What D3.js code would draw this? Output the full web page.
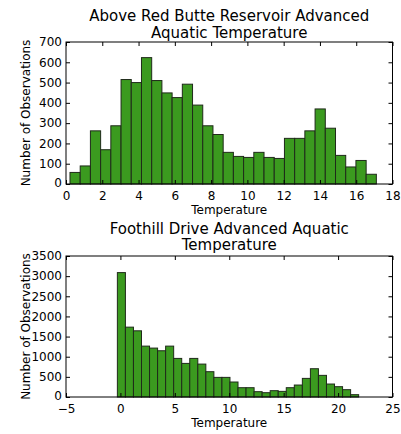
<!DOCTYPE html>
<html>
<head>
<meta charset="utf-8">
<script src="https://cdn.jsdelivr.net/npm/d3@7"></script>
<style>
  html, body { margin: 0; padding: 0; background: #fff; }
  svg { display: block; font-family: "DejaVu Sans", sans-serif; }
</style>
</head>
<body>
<svg id="chart" width="401" height="434"></svg>
<script>
// Above Red Butte Reservoir: 30 bins of observation counts
const redButteBinStart = 0.22;
const redButteBinWidth = 0.563;
const redButteCounts = [57, 89, 262, 169, 287, 515, 500, 623, 510, 449,
                        426, 492, 389, 287, 244, 156, 136, 131, 156, 131,
                        126, 225, 225, 262, 370, 275, 141, 84, 116, 48];
const redButteXTicks = [0, 2, 4, 6, 8, 10, 12, 14, 16, 18];
const redButteYTicks = [0, 100, 200, 300, 400, 500, 600, 700];

// Foothill Drive: 30 bins of observation counts
const foothillBinStart = -0.28;
const foothillBinWidth = 0.739;
const foothillCounts = [3088, 1734, 1643, 1263, 1214, 1148, 1263, 958, 834, 958,
                        817, 628, 487, 487, 372, 231, 231, 132, 107, 157,
                        140, 231, 297, 462, 702, 537, 322, 256, 182, 58];
const foothillXTicks = [-5, 0, 5, 10, 15, 20, 25];
const foothillYTicks = [0, 500, 1000, 1500, 2000, 2500, 3000, 3500];

const panels = [
  {
    title: ["Above Red Butte Reservoir Advanced", "Aquatic Temperature"],
    titleY: 21,
    top: 42, bottom: 184,
    xDomain: [0, 18], yDomain: [0, 700],
    binStart: redButteBinStart, binWidth: redButteBinWidth, counts: redButteCounts,
    xTicks: redButteXTicks, yTicks: redButteYTicks
  },
  {
    title: ["Foothill Drive Advanced Aquatic", "Temperature"],
    titleY: 233.5,
    top: 256, bottom: 397,
    xDomain: [-5, 25], yDomain: [0, 3500],
    binStart: foothillBinStart, binWidth: foothillBinWidth, counts: foothillCounts,
    xTicks: foothillXTicks, yTicks: foothillYTicks
  }
];

const left = 66, right = 392.5;
const svg = d3.select("#chart");
svg.append("rect").attr("width", 401).attr("height", 434).attr("fill", "#fff");

panels.forEach(p => {
  const x = d3.scaleLinear().domain(p.xDomain).range([left, right]);
  const y = d3.scaleLinear().domain(p.yDomain).range([p.bottom, p.top]);
  const g = svg.append("g");

  const bins = p.counts.map((c, i) => ({
    x0: p.binStart + i * p.binWidth,
    x1: p.binStart + (i + 1) * p.binWidth,
    count: c
  }));

  g.selectAll("rect.bar").data(bins).enter().append("rect")
    .attr("class", "bar")
    .attr("x", d => x(d.x0))
    .attr("width", d => x(d.x1) - x(d.x0))
    .attr("y", d => y(d.count))
    .attr("height", d => y(0) - y(d.count))
    .attr("fill", "#3b9a1f")
    .attr("stroke", "#1f2a1a")
    .attr("stroke-width", 1);

  // inward ticks on all four sides
  const tickLen = 4;
  const xb = g.append("g").attr("transform", `translate(0,${p.bottom})`)
    .call(d3.axisBottom(x).tickValues(p.xTicks).tickSize(-tickLen).tickPadding(7).tickFormat(d3.format("d")));
  const xt = g.append("g").attr("transform", `translate(0,${p.top})`)
    .call(d3.axisTop(x).tickValues(p.xTicks).tickSize(-tickLen).tickFormat(""));
  const yl = g.append("g").attr("transform", `translate(${left},0)`)
    .call(d3.axisLeft(y).tickValues(p.yTicks).tickSize(-tickLen).tickPadding(4).tickFormat(d3.format("d")));
  const yr = g.append("g").attr("transform", `translate(${right},0)`)
    .call(d3.axisRight(y).tickValues(p.yTicks).tickSize(-tickLen).tickFormat(""));

  [xb, xt, yl, yr].forEach(a => {
    a.select(".domain").remove();
    a.selectAll("line").attr("stroke", "#000");
    a.selectAll("text").attr("fill", "#000").style("font-size", "12px")
      .style("font-family", "DejaVu Sans, sans-serif");
  });
  xb.selectAll("text").text(d => d < 0 ? "\u2212" + Math.abs(d) : d);
  // lowest y label sits just above the x labels at the corner
  yl.selectAll("text").filter(d => d === 0).attr("dy", "0.2em");

  // frame
  g.append("rect")
    .attr("x", left).attr("y", p.top)
    .attr("width", right - left).attr("height", p.bottom - p.top)
    .attr("fill", "none").attr("stroke", "#000").attr("stroke-width", 1);

  // title
  const t = g.append("text")
    .attr("x", (left + right) / 2).attr("y", p.titleY)
    .attr("text-anchor", "middle").style("font-size", "15px").attr("fill", "#000");
  p.title.forEach((line, i) => {
    t.append("tspan").attr("x", (left + right) / 2).attr("dy", i === 0 ? 0 : 16.5).text(line);
  });

  // axis labels
  g.append("text")
    .attr("x", (left + right) / 2).attr("y", p.bottom + 30)
    .attr("text-anchor", "middle").style("font-size", "12px").attr("fill", "#000")
    .text("Temperature");
  g.append("text")
    .attr("transform", `translate(29.5,${(p.top + p.bottom) / 2}) rotate(-90)`)
    .attr("text-anchor", "middle").style("font-size", "12px").attr("fill", "#000")
    .text("Number of Observations");
});
</script>
</body>
</html>
